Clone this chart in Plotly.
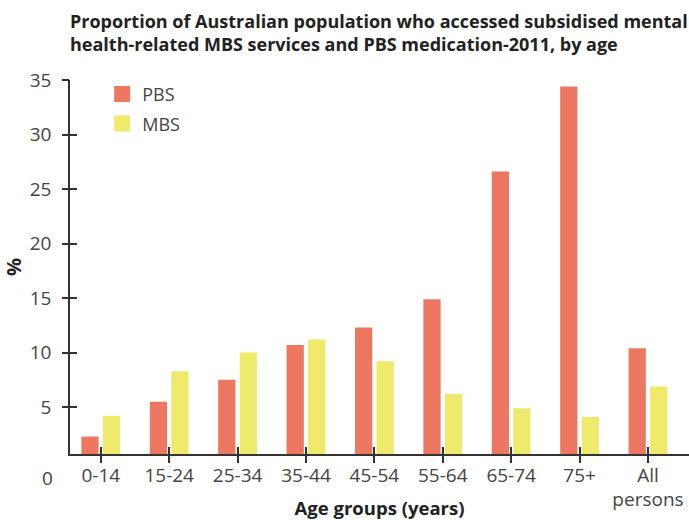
import plotly.graph_objects as go

# Age groups and percentage of population accessing each subsidised service
age_groups = ["0-14", "15-24", "25-34", "35-44", "45-54", "55-64", "65-74", "75+", "All<br>persons"]
pbs_pct = [2.3, 5.5, 7.5, 10.7, 12.3, 14.9, 26.6, 34.4, 10.4]
mbs_pct = [4.2, 8.3, 10.0, 11.2, 9.2, 6.2, 4.9, 4.1, 6.9]
y_ticks = [5, 10, 15, 20, 25, 30, 35]

PBS_COLOR = "#EE7762"
MBS_COLOR = "#EFEA6C"
AXIS_COLOR = "#333333"
TEXT_COLOR = "#444444"
HEAD_COLOR = "#222222"
TICK_FONT = dict(family="Open Sans", size=19, color=TEXT_COLOR)
BOLD_FONT = dict(family="Open Sans", weight=700, color=HEAD_COLOR)

X_RANGE = [-0.45, 8.6]
Y_RANGE = [0.7, 35]

fig = go.Figure()

fig.add_trace(go.Bar(x=age_groups, y=pbs_pct, name="PBS", marker_color=PBS_COLOR,
                     marker_line_width=0, showlegend=False))
fig.add_trace(go.Bar(x=age_groups, y=mbs_pct, name="MBS", marker_color=MBS_COLOR,
                     marker_line_width=0, showlegend=False))

# Legend entries with larger square swatches
for name, color in [("PBS", PBS_COLOR), ("MBS", MBS_COLOR)]:
    fig.add_trace(go.Scatter(x=[None], y=[None], mode="markers", name=name,
                             legendgroup=name,
                             marker=dict(symbol="square", size=16, color=color)))

# Overlay axes add the outer half of the ticks, so the marks cross the axis lines
fig.add_trace(go.Scatter(x=[0, 8], y=[10, 20], xaxis="x2", yaxis="y2", mode="markers",
                         marker=dict(opacity=0), showlegend=False, hoverinfo="skip"))

fig.update_layout(
    width=689, height=520,
    margin=dict(l=70, r=0, t=80, b=66),
    paper_bgcolor="white", plot_bgcolor="white",
    barmode="group", bargap=0.37, bargroupgap=0.2,
    title=dict(
        text="Proportion of Australian population who accessed subsidised mental<br>"
             "health-related MBS services and PBS medication-2011, by age",
        x=0, xref="paper", xanchor="left",
        y=0.946, yref="container", yanchor="top",
        font=dict(BOLD_FONT, size=18),
    ),
    legend=dict(x=0.052, y=1.011, xanchor="left", yanchor="top",
                font=dict(family="Open Sans", size=18, color=TEXT_COLOR),
                bgcolor="rgba(0,0,0,0)", tracegroupgap=3),
    xaxis=dict(
        type="category", range=X_RANGE, automargin=False,
        showline=True, linecolor=AXIS_COLOR, linewidth=1.5,
        ticks="inside", ticklen=7, tickwidth=1.5, tickcolor=AXIS_COLOR,
        tickfont=TICK_FONT, ticklabelstandoff=3, showgrid=False, zeroline=False,
        title=dict(text="Age groups (years)", standoff=10, font=dict(BOLD_FONT, size=18.5)),
    ),
    yaxis=dict(
        range=Y_RANGE, tickvals=y_ticks, automargin=False,
        showline=True, linecolor=AXIS_COLOR, linewidth=1.5,
        ticks="inside", ticklen=7, tickwidth=1.5, tickcolor=AXIS_COLOR,
        tickfont=TICK_FONT, ticklabelstandoff=13, showgrid=False, zeroline=False,
        title=dict(text="%", standoff=8, font=dict(BOLD_FONT, size=20)),
    ),
    xaxis2=dict(overlaying="x", anchor="y", side="bottom", range=X_RANGE,
                tickmode="array", tickvals=list(range(len(age_groups))),
                ticks="outside", ticklen=8, tickwidth=1.5, tickcolor=AXIS_COLOR,
                showticklabels=False, showline=False, showgrid=False, zeroline=False),
    yaxis2=dict(overlaying="y", anchor="x", side="left", range=Y_RANGE,
                tickmode="array", tickvals=y_ticks,
                ticks="outside", ticklen=7, tickwidth=1.5, tickcolor=AXIS_COLOR,
                showticklabels=False, showline=False, showgrid=False, zeroline=False),
    annotations=[dict(text="0", x=-0.036, y=-0.064, xref="paper", yref="paper",
                      xanchor="center", yanchor="middle", showarrow=False,
                      font=TICK_FONT)],
)

fig.write_html("out.html")
